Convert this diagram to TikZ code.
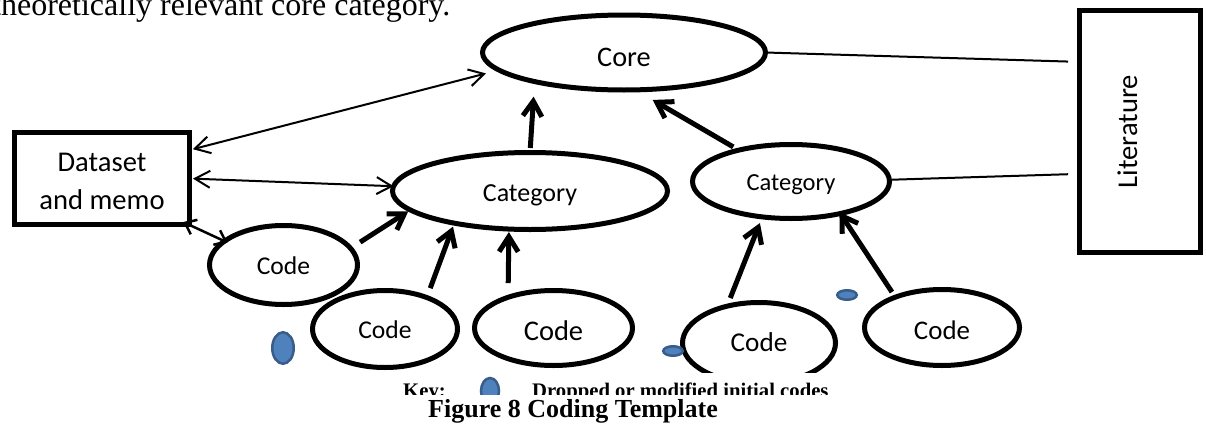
\documentclass[tikz,border=0pt]{standalone}
\usepackage{fontspec}
\setmainfont{Liberation Serif}
\newfontfamily\calibri{Carlito}
\usetikzlibrary{shapes.geometric,arrows.meta}

\definecolor{blobfill}{HTML}{4F81BD}
\definecolor{blobline}{HTML}{385D8A}

\tikzset{
  oval/.style={ellipse, draw, line width=5pt, inner sep=0pt, outer sep=0pt},
  boxnode/.style={rectangle, draw, line width=4.5pt, inner sep=0pt, outer sep=0pt},
  blob/.style={ellipse, fill=blobfill, draw=blobline, line width=2.5pt, inner sep=0pt, outer sep=0pt},
  thinlink/.style={line width=2pt, {Straight Barb[length=15pt,width=17pt]}-{Straight Barb[length=15pt,width=17pt]}},
  midlink/.style={line width=2.5pt, {Straight Barb[length=10pt,width=16pt]}-{Straight Barb[length=10pt,width=16pt]}},
  thicklink/.style={line width=5pt, -{Straight Barb[length=15pt,width=19pt]}},
  plainlink/.style={line width=2pt},
}

\begin{document}
\begin{tikzpicture}[x=1pt,y=-1pt]
\useasboundingbox (0,0) rectangle (1206,423);
\clip (0,0) rectangle (1206,423);

% running text above the figure
\node[anchor=base west, inner sep=0pt, font=\fontsize{32}{38}\selectfont] (bodytext) at (-8,15)
  {theoretically relevant core category.};

% core, categories and codes
\node[oval, minimum width=283pt, minimum height=75pt, text height=27pt, text depth=0pt,
      font=\calibri\fontsize{28.3}{30}\selectfont] (core) at (624,52.5) {Core};
\node[oval, minimum width=275pt, minimum height=77pt, text height=20.7pt, text depth=0pt,
      font=\calibri\fontsize{26}{28}\selectfont] (cat1) at (530,191) {Category};
\node[oval, minimum width=197pt, minimum height=74pt, text height=17.8pt, text depth=0pt,
      font=\calibri\fontsize{24.5}{26}\selectfont] (cat2) at (791,181.5) {Category};
\node[oval, minimum width=148pt, minimum height=79pt, text height=19.5pt, text depth=0pt,
      font=\calibri\fontsize{25.6}{27}\selectfont] (code1) at (283.5,265) {Code};
\node[oval, minimum width=145pt, minimum height=77pt, text height=19.5pt, text depth=0pt,
      font=\calibri\fontsize{25.6}{27}\selectfont] (code2) at (385,329) {Code};
\node[oval, minimum width=158pt, minimum height=75pt, text height=24pt, text depth=0pt,
      font=\calibri\fontsize{28.5}{30}\selectfont] (code3) at (553.5,328) {Code};
\node[oval, minimum width=153pt, minimum height=81pt, text height=16.5pt, text depth=0pt,
      font=\calibri\fontsize{27.2}{29}\selectfont] (code4) at (759,343) {Code};
\node[oval, minimum width=155pt, minimum height=76pt, text height=23.9pt, text depth=0pt,
      font=\calibri\fontsize{26.9}{28}\selectfont] (code5) at (942,327.5) {Code};

% dataset and literature boxes
\node[boxnode, minimum width=175pt, minimum height=92pt, align=center,
      font=\calibri\fontsize{28.6}{38.5}\selectfont] (data) at (102,178.5)
  {\rule{0pt}{24.1pt}Dataset\\and memo};
\node[boxnode, minimum width=121pt, minimum height=242pt] (lit) at (1140,131.5) {};
\node[rotate=90, anchor=base, inner sep=0pt, font=\calibri\fontsize{28.6}{30}\selectfont]
  (littext) at ([xshift=-3pt]lit.center) {Literature};

% dropped or modified codes
\node[blob, minimum width=21.5pt, minimum height=31.5pt] (drop1) at (283,348) {};
\node[blob, minimum width=19.5pt, minimum height=9.5pt] (drop2) at (673,351) {};
\node[blob, minimum width=19.5pt, minimum height=9.5pt] (drop3) at (847,295) {};

% links to the data set
\draw[thinlink, shorten <=3.5pt, shorten >=13.4pt] (data.18.7) -- (core.188.5);
\draw[thinlink, shorten <=3.5pt] (data.0) -- (cat1.178.7);
\draw[midlink, shorten <=-5.9pt, shorten >=-3.4pt] (data.-28.3) -- (code1.158.6);

% codes feed categories, categories feed the core
\draw[thicklink, shorten <=11.4pt, shorten >=2.4pt] (code1.14.4) -- (cat1.189.5);
\draw[thicklink, shorten <=10pt, shorten >=3.7pt] (code2.37.6) -- (cat1.203.8);
\draw[thicklink, shorten <=14.3pt, shorten >=3pt] (code3.146.2) -- (cat1.241.2);
\draw[thicklink, shorten <=4.5pt, shorten >=15.1pt] (cat1.90.5) -- (core.198.6);
\draw[thicklink, shorten <=6.4pt, shorten >=20pt] (cat2.149.2) -- (core.287.5);
\draw[thicklink, shorten <=8.8pt, shorten >=6.6pt] (code4.131.3) -- (cat2.231.1);
\draw[thicklink, shorten <=6.1pt, shorten >=-1.7pt] (code5.147) -- (cat2.327.4);

% links to the literature
\draw[plainlink, shorten <=2.5pt, shorten >=11.5pt] (core.0.7) -- (lit.131.6);
\draw[plainlink, shorten <=2.5pt, shorten >=11.5pt] (cat2.1) -- (lit.215.7);

% key line, partly hidden under the caption
\begin{scope}
  \clip (380,373) rectangle (860,394);
  \fill[white] (380,373) rectangle (860,394);
  \node[anchor=base west, inner sep=0pt, font=\bfseries\fontsize{20.7}{24}\selectfont] (keylabel) at (403,397) {Key:};
  \node[blob, minimum width=18pt, minimum height=26pt] (keyblob) at (490,391) {};
  \node[anchor=base west, inner sep=0pt, font=\bfseries\fontsize{20.7}{24}\selectfont] (keytext) at (532,397)
    {Dropped or modified initial codes};
\end{scope}

% caption
\node[anchor=base west, inner sep=0pt, font=\bfseries\fontsize{26}{30}\selectfont] (caption) at (428,417)
  {Figure 8 Coding Template};
\end{tikzpicture}
\end{document}
